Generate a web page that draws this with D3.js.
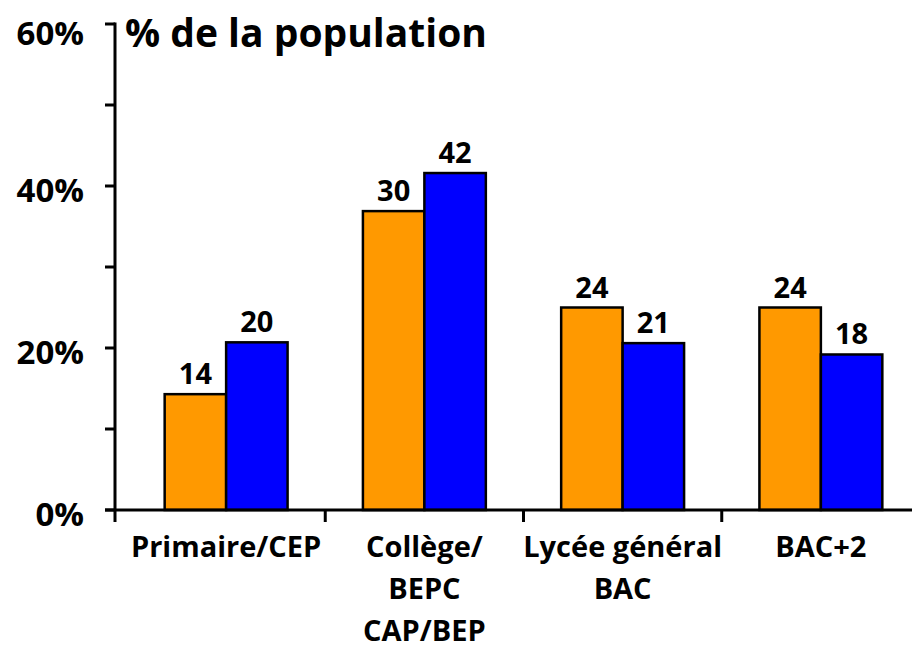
<!DOCTYPE html>
<html>
<head>
<meta charset="utf-8">
<script src="https://cdn.jsdelivr.net/npm/d3@7"></script>
<style>
  body { margin: 0; background: #fff; overflow: hidden; }
  svg { display: block; }
  text { font-family: "Open Sans", sans-serif; font-weight: bold; fill: #000; }
</style>
</head>
<body>
<script>
// categories (one entry per line of the label)
var categories = [["Primaire/CEP"], ["Collège/", "BEPC", "CAP/BEP"], ["Lycée général", "BAC"], ["BAC+2"]];
// bar heights as drawn (%), and the numbers printed on top
var orangeValues = [14.3, 36.9, 25.0, 25.0];
var blueValues = [20.7, 41.6, 20.6, 19.2];
var orangeLabels = [14, 30, 24, 24];
var blueLabels = [20, 42, 21, 18];
var yTicks = [0, 20, 40, 60];
var yMinorTicks = [10, 30, 50];

var width = 912, height = 648;

var svg = d3.select("body").append("svg")
  .attr("width", width)
  .attr("height", height);

var yScale = d3.scaleLinear().domain([0, 60]).range([510, 24]);

var xScale = d3.scaleBand()
  .domain(d3.range(categories.length))
  .range([127, 920])
  .paddingInner(0.38)
  .paddingOuter(0.19);

var inner = d3.scaleBand()
  .domain([0, 1])
  .range([0, xScale.bandwidth()]);

var colors = ["#FF9900", "#0000FF"];

// bars
var groups = svg.selectAll("g.group")
  .data(categories)
  .enter()
  .append("g")
  .attr("class", "group")
  .attr("transform", function(d, i) { return "translate(" + xScale(i) + ",0)"; });

groups.each(function(d, i) {
  var g = d3.select(this);
  var vals = [orangeValues[i], blueValues[i]];
  var labs = [orangeLabels[i], blueLabels[i]];
  g.selectAll("rect")
    .data(vals)
    .enter()
    .append("rect")
    .attr("x", function(v, j) { return inner(j); })
    .attr("y", function(v) { return yScale(v); })
    .attr("width", inner.bandwidth())
    .attr("height", function(v) { return yScale(0) - yScale(v); })
    .attr("fill", function(v, j) { return colors[j]; })
    .attr("stroke", "#000")
    .attr("stroke-width", 2.5);

  g.selectAll("text.val")
    .data(labs)
    .enter()
    .append("text")
    .attr("class", "val")
    .attr("x", function(v, j) { return inner(j) + inner.bandwidth() / 2; })
    .attr("y", function(v, j) { return yScale(vals[j]) - 10; })
    .attr("text-anchor", "middle")
    .style("font-size", "29px")
    .text(function(v) { return v; });
});

// y axis
svg.append("line")
  .attr("x1", 115).attr("x2", 115)
  .attr("y1", yScale(60) - 1.5).attr("y2", yScale(0) + 12)
  .attr("stroke", "#000").attr("stroke-width", 3);

svg.selectAll("line.ytick")
  .data(yTicks.concat(yMinorTicks))
  .enter()
  .append("line")
  .attr("class", "ytick")
  .attr("x1", 105).attr("x2", 115)
  .attr("y1", function(d) { return yScale(d); })
  .attr("y2", function(d) { return yScale(d); })
  .attr("stroke", "#000").attr("stroke-width", 3);

svg.selectAll("text.ylab")
  .data(yTicks)
  .enter()
  .append("text")
  .attr("class", "ylab")
  .attr("x", 84)
  .attr("y", function(d) { return Math.max(yScale(d) + 4, 33); })
  .attr("dy", "0.36em")
  .attr("text-anchor", "end")
  .style("font-size", "33px")
  .text(function(d) { return d + "%"; });

// x axis
svg.append("line")
  .attr("x1", 105).attr("x2", 912)
  .attr("y1", yScale(0)).attr("y2", yScale(0))
  .attr("stroke", "#000").attr("stroke-width", 3);

var step = xScale.step();
svg.selectAll("line.xtick")
  .data(d3.range(1, categories.length))
  .enter()
  .append("line")
  .attr("class", "xtick")
  .attr("x1", function(i) { return xScale(i) + xScale.bandwidth() / 2 - step / 2; })
  .attr("x2", function(i) { return xScale(i) + xScale.bandwidth() / 2 - step / 2; })
  .attr("y1", yScale(0)).attr("y2", yScale(0) + 12)
  .attr("stroke", "#000").attr("stroke-width", 3);

// category labels
svg.selectAll("text.cat")
  .data(categories)
  .enter()
  .append("text")
  .attr("class", "cat")
  .attr("text-anchor", "middle")
  .style("font-size", "29px")
  .each(function(lines, i) {
    var t = d3.select(this);
    lines.forEach(function(line, k) {
      t.append("tspan")
        .attr("x", xScale(i) + xScale.bandwidth() / 2)
        .attr("y", 557 + k * 42)
        .text(line);
    });
  });

// title
svg.append("text")
  .attr("x", 125)
  .attr("y", 47)
  .style("font-size", "39px")
  .text("% de la population");
</script>
</body>
</html>
